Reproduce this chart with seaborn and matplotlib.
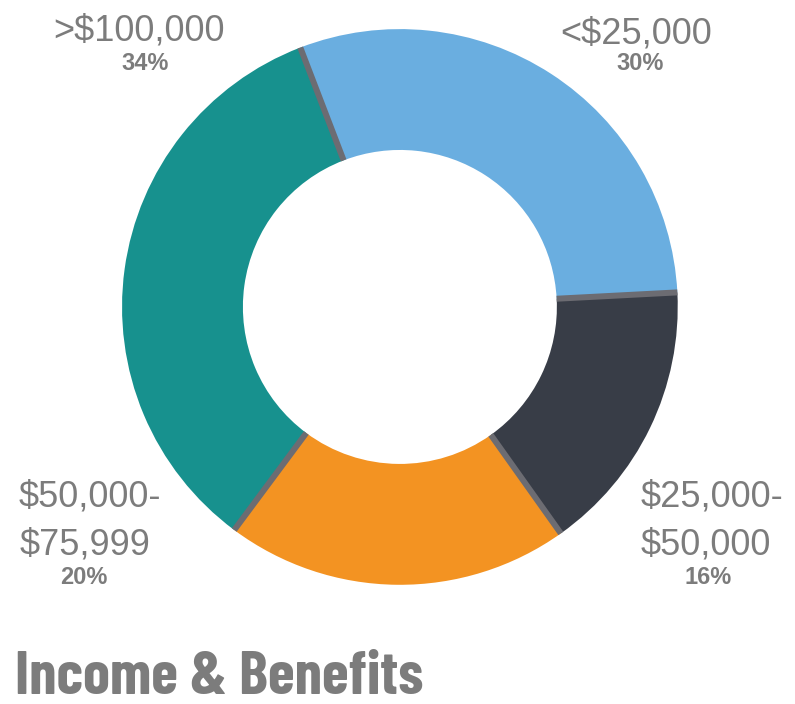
import numpy as np
import matplotlib
matplotlib.use('Agg')
import matplotlib.pyplot as plt
import seaborn as sns

# data
labels = ['<$25,000', '$25,000-\n$50,000', '$50,000-\n$75,999', '>$100,000']
shares = [30, 16, 20, 34]
colors = ['#6aaee0', '#383d47', '#f39322', '#17918e']
sep_color = '#6c6c72'
text_grey = '#7c7c7c'

sns.set_theme(style='white')
plt.rcParams['font.family'] = ['Liberation Sans', 'DejaVu Sans']

fig = plt.figure(figsize=(7.95, 7.04), dpi=100)
ax = fig.add_axes([0.1535, 0.169, 0.699, 0.790])

start = 111
ring = 0.435
wedges, _ = ax.pie(shares, colors=colors, startangle=start, counterclock=False,
                   radius=1, wedgeprops=dict(width=ring, linewidth=0))

# grey separators between slices
bounds = start - np.cumsum([0] + shares[:-1]) * 3.6
for a in np.deg2rad(bounds):
    ax.plot([(1 - ring) * np.cos(a), np.cos(a)], [(1 - ring) * np.sin(a), np.sin(a)],
            color=sep_color, lw=4.3, solid_capstyle='butt')
ax.set_xlim(-1, 1)
ax.set_ylim(-1, 1)
ax.set_aspect('equal')
ax.axis('off')

# labels (figure pixel positions)
W, H = 795, 704
def ftxt(x, y, s, size, weight='normal', ha='center', **kw):
    fig.text(x / W, 1 - y / H, s, fontsize=size, color=text_grey, weight=weight,
             ha=ha, va='center', **kw)

big, small = 26, 17
ftxt(636, 34, labels[0], big)
ftxt(640, 64, f'{shares[0]}%', small, 'bold')
ftxt(712, 497, '$25,000-', big)
ftxt(706, 545, '$50,000', big)
ftxt(708, 578, f'{shares[1]}%', small, 'bold')
ftxt(90, 497, '$50,000-', big)
ftxt(85, 545, '$75,999', big)
ftxt(84, 578, f'{shares[2]}%', small, 'bold')
ftxt(139, 31, labels[3], big)
ftxt(145, 63, f'{shares[3]}%', small, 'bold')

fig.text(15 / W, 1 - 678 / H, 'Income & Benefits', fontsize=44, color=text_grey,
         weight=700, ha='left', va='center',
         family=['Barlow Condensed', 'DejaVu Sans'])

fig.savefig('out.png', dpi=100)
